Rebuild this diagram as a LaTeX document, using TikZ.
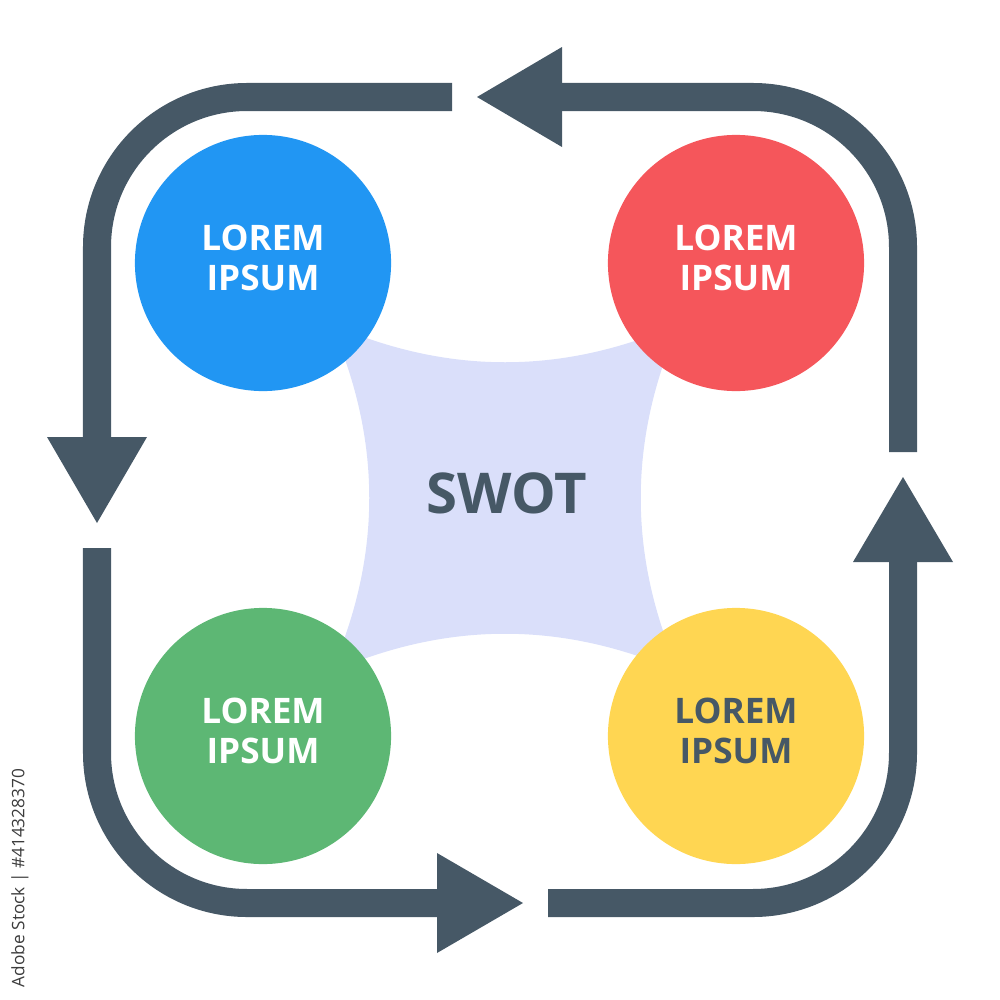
\documentclass[tikz,border=0pt]{standalone}
\usepackage{fontspec}
\setmainfont{Open Sans}
\newfontfamily\wmfont{Open Sans}
\definecolor{slate}{RGB}{70,88,102}
\definecolor{lav}{RGB}{218,223,250}
\definecolor{cblue}{RGB}{33,150,243}
\definecolor{cred}{RGB}{245,86,91}
\definecolor{cgreen}{RGB}{93,183,116}
\definecolor{cyellow}{RGB}{255,214,82}
\definecolor{wmgray}{RGB}{60,60,60}
\tikzset{
  loopline/.style={draw=slate, line width=2.8mm, rounded corners=1.5cm},
  headtri/.style={fill=slate},
  bubble/.style={circle, minimum size=2.56cm, inner sep=0pt},
  bubtext/.style={align=center, inner sep=0pt, font=\bfseries\fontsize{10pt}{11.4pt}\selectfont},
}
\begin{document}
\begin{tikzpicture}[x=0.01cm,y=-0.01cm]
\useasboundingbox (0,0) rectangle (1000,1000);
% central concave square
\fill[lav, shift={(505,498)}] (-174,-174) .. controls (-58,-123) and (58,-123) .. (174,-174)
  .. controls (123,-58) and (123,58) .. (174,174)
  .. controls (58,123) and (-58,123) .. (-174,174)
  .. controls (-123,58) and (-123,-58) .. cycle;
\node[font=\bfseries\fontsize{16pt}{18pt}\selectfont, text=slate] (swot) at (507,493) {SWOT};
% circles
\node[bubble, fill=cblue] (s) at (263,263) {};
\node[bubble, fill=cred] (w) at (736,263) {};
\node[bubble, fill=cgreen] (o) at (263,736) {};
\node[bubble, fill=cyellow] (t) at (736,736) {};
\node[bubtext, text=white] (st) at ([yshift=0.05cm]s.center) {LOREM\\IPSUM};
\node[bubtext, text=white] (wt) at ([yshift=0.05cm]w.center) {LOREM\\IPSUM};
\node[bubtext, text=white] (ot) at ([yshift=0.05cm]o.center) {LOREM\\IPSUM};
\node[bubtext, text=slate] (tt) at ([yshift=0.05cm]t.center) {LOREM\\IPSUM};
% loop arrows
\draw[loopline] (903,452) -- (903,97) -- (562,97);
\fill[headtri] (562,47) -- (562,147) -- (477,97) -- cycle;
\draw[loopline] (452,97) -- (97,97) -- (97,437);
\fill[headtri] (47,437) -- (147,437) -- (97,523) -- cycle;
\draw[loopline] (97,548) -- (97,903) -- (437,903);
\fill[headtri] (437,853) -- (437,953) -- (523,903) -- cycle;
\draw[loopline] (548,903) -- (903,903) -- (903,562);
\fill[headtri] (853,562) -- (953,562) -- (903,477) -- cycle;
% stock id
\node[rotate=90, font=\wmfont\fontsize{4.9pt}{6pt}\selectfont, text=wmgray] (stockid) at (20,878) {Adobe Stock | \#414328370};
\end{tikzpicture}
\end{document}
